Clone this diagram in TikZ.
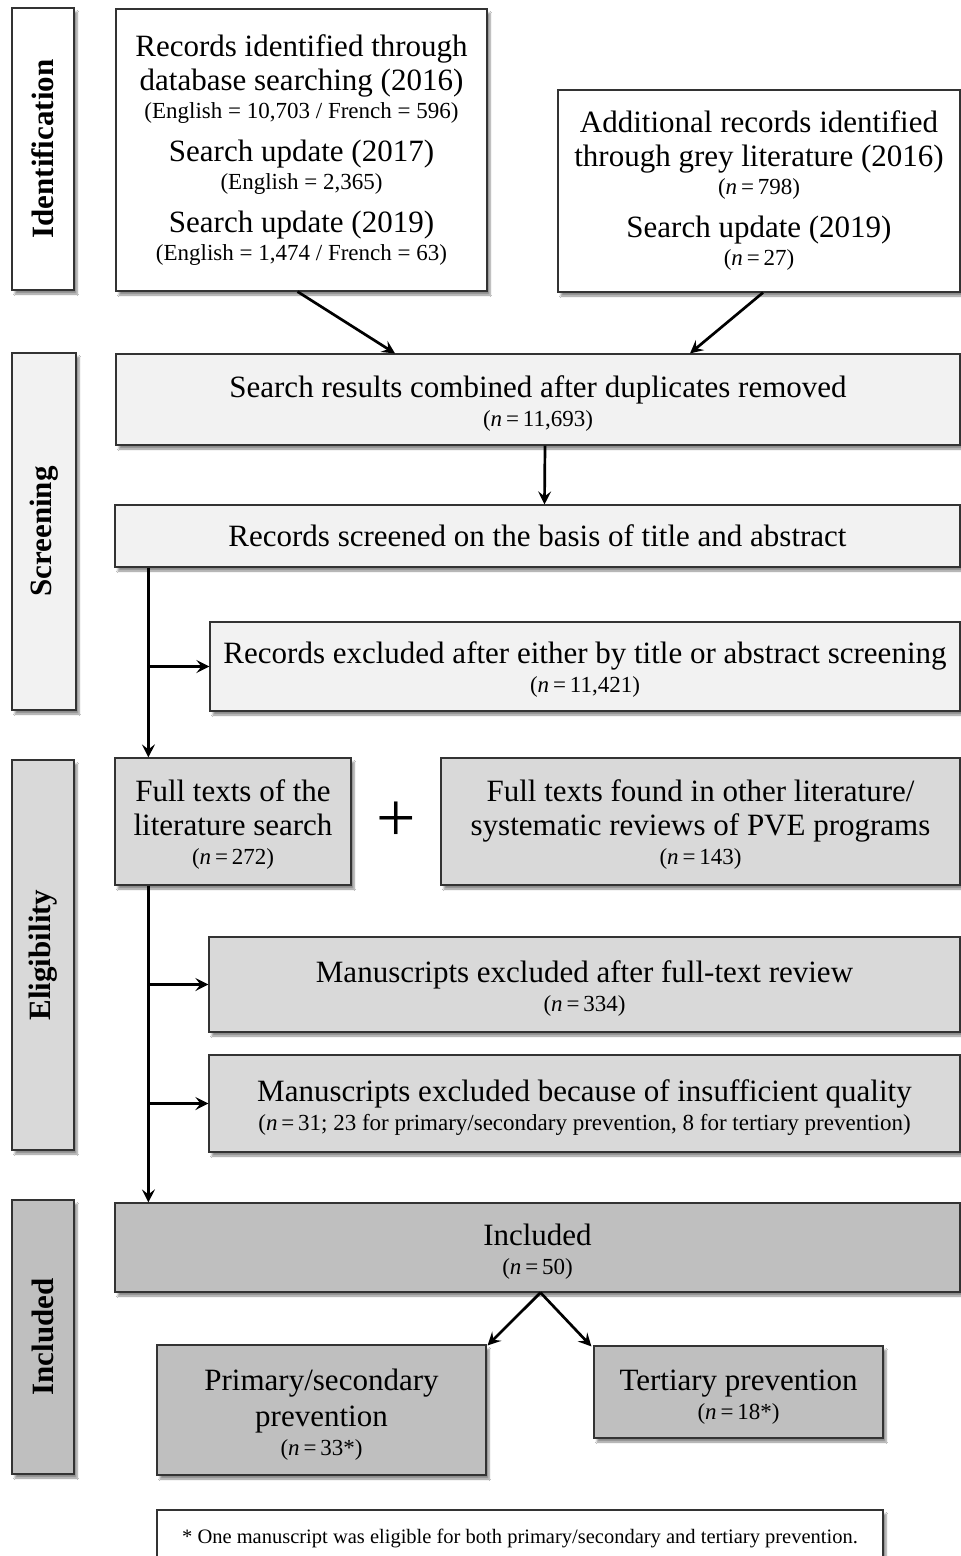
\documentclass[tikz,border=0pt]{standalone}
\usepackage{fontspec}
\setmainfont{Liberation Serif}
\usetikzlibrary{shadows.blur,arrows.meta}
\newcommand\mainsz{\fontsize{31}{34}\selectfont}
\newcommand\smallsz{\fontsize{23}{30}\selectfont}
\newcommand\nn{(\textit{n}\,=\,}
\definecolor{lvA}{HTML}{FFFFFF}
\definecolor{lvB}{HTML}{F2F2F2}
\definecolor{lvC}{HTML}{D9D9D9}
\definecolor{lvD}{HTML}{BFBFBF}
\begin{document}
\begin{tikzpicture}[x=1pt,y=-1pt,
  box/.style={draw=black!80, line width=1.2pt, align=center, inner sep=0pt, font=\mainsz,
    blur shadow={shadow xshift=3pt, shadow yshift=-4pt, shadow blur steps=6, shadow opacity=45}},
  txt/.style={align=center, inner sep=0pt, font=\mainsz},
  side/.style={box},
  sidelabel/.style={rotate=90, font=\fontsize{31}{34}\selectfont\bfseries, inner sep=0pt},
  arr/.style={line width=2.7pt, -{Stealth[length=13pt,width=13pt,inset=5pt]}}
]
\useasboundingbox (0,0) rectangle (961,1556);
\fill[white] (0,0) rectangle (961,1556);

% side boxes
\node[side, fill=lvA, minimum width=62, minimum height=282] (s1) at (43,149) {};
\node[sidelabel] (s1t) at (s1.center) {Identification};
\node[side, fill=lvB, minimum width=64, minimum height=357] (s2) at (44,531.5) {};
\node[sidelabel] (s2t) at (s2.center) {Screening};
\node[side, fill=lvC, minimum width=62, minimum height=390] (s3) at (43,955) {};
\node[sidelabel] (s3t) at (s3.center) {Eligibility};
\node[side, fill=lvD, minimum width=62, minimum height=274] (s4) at (43,1337) {};
\node[sidelabel] (s4t) at (s4.center) {Included};

% identification
\node[box, fill=lvA, minimum width=371, minimum height=282] (A) at (301.5,150) {};
\node[txt] (At) at (A.center) {Records identified through\\ database searching (2016)\\[-6pt] {\smallsz (English = 10,703 / French = 596)}\\[9pt] Search update (2017)\\[-6pt] {\smallsz (English = 2,365)}\\[9pt] Search update (2019)\\[-6pt] {\smallsz (English = 1,474 / French = 63)}};

\node[box, fill=lvA, minimum width=402, minimum height=202] (B) at (759,191) {};
\node[txt] (Bt) at (B.center) {Additional records identified\\ through grey literature (2016)\\[-6pt] {\smallsz \nn 798)}\\[9pt] Search update (2019)\\[-6pt] {\smallsz \nn 27)}};

% screening
\node[box, fill=lvB, minimum width=844, minimum height=91] (C) at (538,399.5) {};
\node[txt] (Ct) at ([yshift=-4.5pt]C.center) {Search results combined after duplicates removed\\[-5pt] {\smallsz \nn 11,693)}};
\node[box, fill=lvB, minimum width=845, minimum height=62] (D) at (537.5,536) {Records screened on the basis of title and abstract};
\node[box, fill=lvB, minimum width=750, minimum height=89] (E) at (585,666.5) {};
\node[txt] (Et) at ([yshift=-3pt]E.center) {Records excluded after either by title or abstract screening\\[-5pt] {\smallsz \nn 11,421)}};

% eligibility
\node[box, fill=lvC, minimum width=236, minimum height=127] (F) at (233,821.5) {};
\node[txt] (Ft) at ([yshift=-3.5pt]F.center) {Full texts of the\\ literature search\\[-5pt] {\smallsz \nn 272)}};
\node[inner sep=0pt, font=\fontsize{70}{70}\selectfont] (plus) at (396,822) {+};
\node[box, fill=lvC, minimum width=519, minimum height=127] (G) at (700.5,821.5) {};
\node[txt] (Gt) at ([yshift=-3.5pt]G.center) {Full texts found in other literature/\\ systematic reviews of PVE programs\\[-5pt] {\smallsz \nn 143)}};
\node[box, fill=lvC, minimum width=751, minimum height=95] (H) at (584.5,984.5) {};
\node[txt] (Ht) at ([yshift=-4pt]H.center) {Manuscripts excluded after full-text review\\[-5pt] {\smallsz \nn 334)}};
\node[box, fill=lvC, minimum width=751, minimum height=97] (I) at (584.5,1103.5) {};
\node[txt] (It) at ([yshift=-4.5pt]I.center) {Manuscripts excluded because of insufficient quality\\[-5pt] {\smallsz \nn 31; 23 for primary/secondary prevention, 8 for tertiary prevention)}};

% included
\node[box, fill=lvD, minimum width=845, minimum height=89] (J) at (537.5,1247.5) {};
\node[txt] (Jt) at ([yshift=-4pt]J.center) {Included\\[-5pt] {\smallsz \nn 50)}};
\node[box, fill=lvD, minimum width=329, minimum height=130] (K) at (321.5,1410) {};
\node[txt] (Kt) at ([yshift=-4.5pt]K.center) {Primary/secondary\\[2pt] prevention\\[-5pt] {\smallsz \nn 33*)}};
\node[box, fill=lvD, minimum width=289, minimum height=92] (L) at (738.5,1392) {};
\node[txt] (Lt) at ([yshift=-5.5pt]L.center) {Tertiary prevention\\[-5pt] {\smallsz \nn 18*)}};

\node[box, fill=white, minimum width=726, minimum height=56, font=\fontsize{20.5}{24}\selectfont] (N) at (520,1538) {* One manuscript was eligible for both primary/secondary and tertiary prevention.};

% connectors
\draw[arr] ([xshift=-4pt]A.south) -- ([xshift=-143pt]C.north);
\draw[arr] ([xshift=4pt]B.south) -- ([xshift=152pt]C.north);
\draw[arr] ([xshift=7pt]C.south) -- ([xshift=7pt]D.north);
\draw[arr] ([xshift=34pt]D.south west) -- ([xshift=34pt]F.north west);
\draw[arr] ([xshift=34pt]D.south west |- E.west) -- (E.west);
\draw[arr] ([xshift=34pt]F.south west) -- ([xshift=34pt]J.north west);
\draw[arr] ([xshift=34pt]F.south west |- H.west) -- (H.west);
\draw[arr] ([xshift=34pt]F.south west |- I.west) -- (I.west);
\draw[arr] ([xshift=3pt]J.south) -- ([xshift=1pt,yshift=-1pt]K.north east);
\draw[arr] ([xshift=3pt]J.south) -- ([xshift=-2pt,yshift=-1pt]L.north west);
\end{tikzpicture}
\end{document}
